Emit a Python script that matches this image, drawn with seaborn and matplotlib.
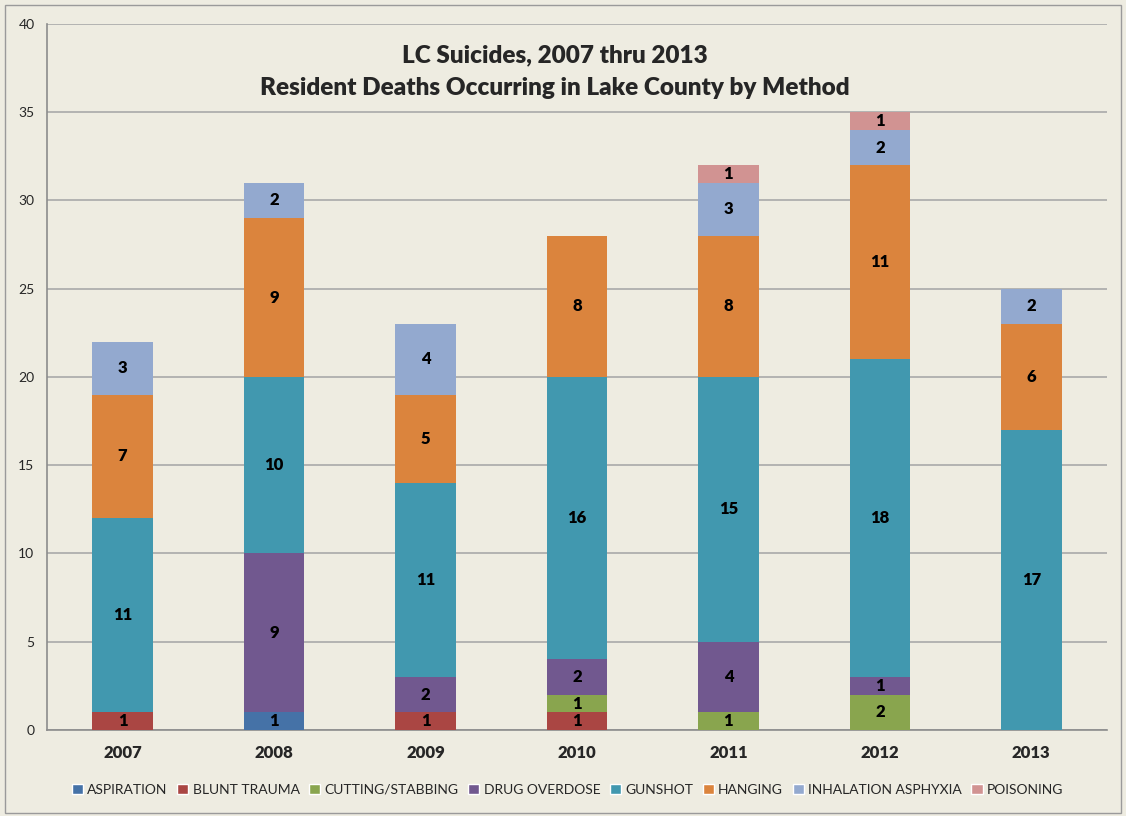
import numpy as np
import pandas as pd
import matplotlib
matplotlib.use("Agg")
import matplotlib.pyplot as plt
from matplotlib.patches import Patch, Rectangle
import seaborn as sns

# =========================
# DATA
# =========================
years = ["2007", "2008", "2009", "2010", "2011", "2012", "2013"]
methods = ["ASPIRATION", "BLUNT TRAUMA", "CUTTING/STABBING", "DRUG OVERDOSE",
           "GUNSHOT", "HANGING", "INHALATION ASPHYXIA", "POISONING"]

aspiration = [0, 1, 0, 0, 0, 0, 0]
blunt_trauma = [1, 0, 1, 1, 0, 0, 0]
cutting_stabbing = [0, 0, 0, 1, 1, 2, 0]
drug_overdose = [0, 9, 2, 2, 4, 1, 0]
gunshot = [11, 10, 11, 16, 15, 18, 17]
hanging = [7, 9, 5, 8, 8, 11, 6]
inhalation = [3, 2, 4, 0, 3, 2, 2]
poisoning = [0, 0, 0, 0, 1, 1, 0]

series = [aspiration, blunt_trauma, cutting_stabbing, drug_overdose,
          gunshot, hanging, inhalation, poisoning]
colors = ["#4572A7", "#AA4643", "#89A54E", "#71588F",
          "#4198AF", "#DB843D", "#93A9CF", "#D19392"]

BG = "#EEECE1"

# =========================
# PLOT
# =========================
sns.set_style("white")
plt.rcParams["font.family"] = ["Lato", "DejaVu Sans"]

fig = plt.figure(figsize=(11.26, 8.16), dpi=100, facecolor=BG)
ax = fig.add_axes([0.0417, 0.1054, 0.9414, 0.8652])
ax.set_facecolor(BG)

bottom = np.zeros(len(years))
for name, vals, col in zip(methods, series, colors):
    df = pd.DataFrame({"year": years, "count": vals})
    sns.barplot(data=df, x="year", y="count", order=years, color=col,
                width=0.4, bottom=bottom.copy(), linewidth=0,
                saturation=1, ax=ax, zorder=3)
    cont = ax.containers[-1]
    ax.bar_label(cont, labels=[str(v) if v else "" for v in vals],
                 label_type="center", fontsize=12, fontweight="heavy",
                 color="black", zorder=4)
    bottom += np.array(vals)

# axes styling
ax.set_xlim(-0.5, 6.5)
ax.set_ylim(0, 40)
ax.set_yticks(np.arange(0, 41, 5))
ax.yaxis.grid(True, color="#A9A9A9", linewidth=1.2, zorder=0)
ax.set_axisbelow(True)
for s in ["top", "right"]:
    ax.spines[s].set_visible(False)
for s in ["left", "bottom"]:
    ax.spines[s].set_color("#8C8C8C")
    ax.spines[s].set_linewidth(1.2)
ax.set_xlabel("")
ax.set_ylabel("")
ax.tick_params(axis="y", length=6, color="#8C8C8C", labelsize=10, pad=3)
ax.tick_params(axis="x", which="major", length=0, labelsize=12, pad=11)
ax.set_xticks(np.arange(-0.5, 7, 1), minor=True)
ax.tick_params(axis="x", which="minor", length=6, color="#8C8C8C")
for lbl in ax.get_xticklabels():
    lbl.set_fontweight("heavy")

# title inside plot area
ax.text(0.479, 0.956, "LC Suicides, 2007 thru 2013", transform=ax.transAxes,
        ha="center", va="center", fontsize=17.5, fontweight="heavy")
ax.text(0.479, 0.909, "Resident Deaths Occurring in Lake County by Method",
        transform=ax.transAxes, ha="center", va="center",
        fontsize=17.5, fontweight="heavy")

# legend
handles = [Patch(facecolor=c, label=m) for m, c in zip(methods, colors)]
fig.legend(handles=handles, loc="center", bbox_to_anchor=(0.504, 0.032),
           ncol=8, frameon=False, fontsize=10, handlelength=0.8,
           handleheight=0.8, handletextpad=0.3, columnspacing=0.7)

# outer chart border
fig.patches.append(Rectangle((0.004, 0.004), 0.992, 0.99, transform=fig.transFigure,
                             fill=False, edgecolor="#9A9A9A", linewidth=1))

fig.savefig("out.png", dpi=100, facecolor=BG)
